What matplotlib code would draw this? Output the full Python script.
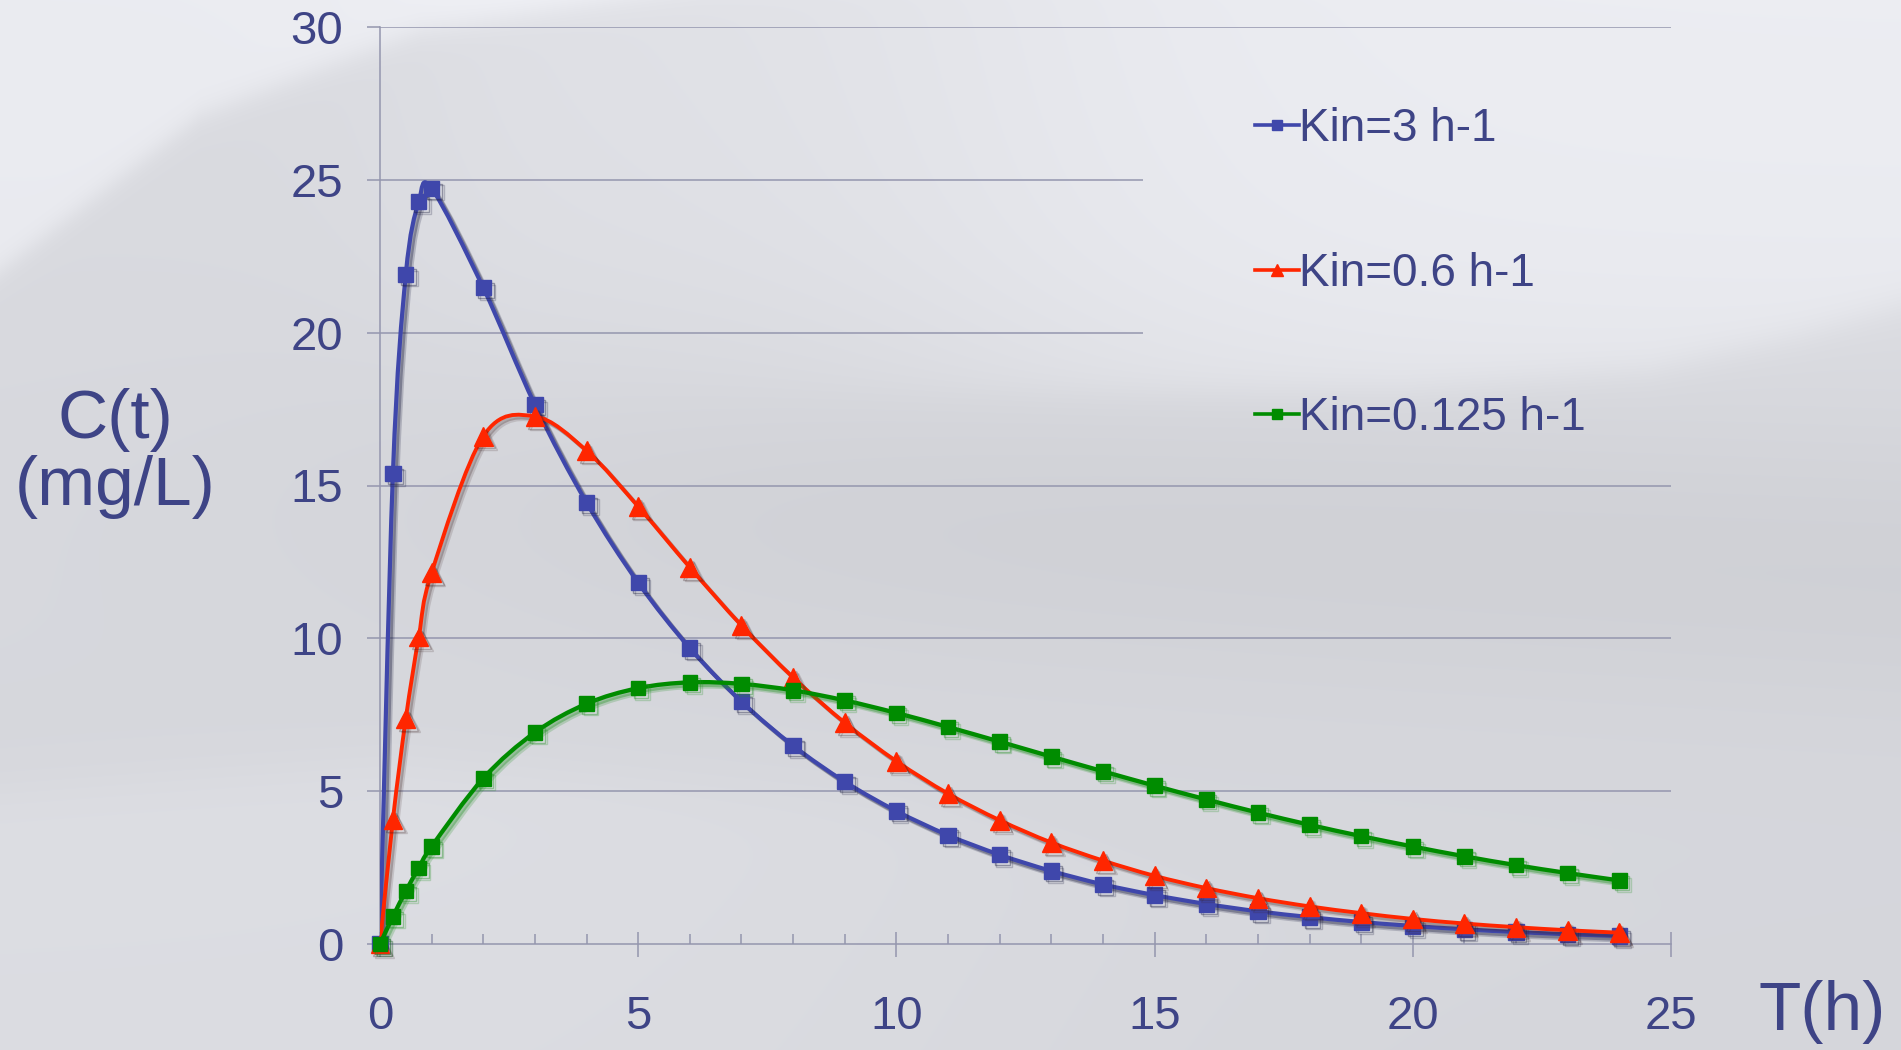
import numpy as np
import matplotlib
matplotlib.use("Agg")
import matplotlib.pyplot as plt
from matplotlib.path import Path
from matplotlib.patches import PathPatch
from matplotlib.lines import Line2D
import matplotlib.patheffects as pe

# ---- data: plasma concentration (mg/L) versus time (h) ----
time_h = [0, 0.25, 0.5, 0.75, 1, 2, 3, 4, 5, 6, 7, 8, 9, 10, 11, 12,
          13, 14, 15, 16, 17, 18, 19, 20, 21, 22, 23, 24]
conc_kin_3 = [0, 15.39, 21.91, 24.28, 24.72, 21.47, 17.64, 14.44, 11.82,
              9.68, 7.93, 6.49, 5.31, 4.35, 3.56, 2.92, 2.39, 1.95, 1.60,
              1.31, 1.07, 0.88, 0.72, 0.59, 0.48, 0.39, 0.32, 0.26]
conc_kin_06 = [0, 4.07, 7.38, 10.04, 12.15, 16.61, 17.26, 16.14, 14.31,
               12.32, 10.42, 8.72, 7.24, 5.98, 4.92, 4.05, 3.32, 2.73, 2.23,
               1.83, 1.50, 1.23, 1.01, 0.82, 0.67, 0.55, 0.45, 0.37]
conc_kin_0125 = [0, 0.90, 1.73, 2.49, 3.19, 5.42, 6.92, 7.86, 8.37, 8.56,
                 8.51, 8.30, 7.97, 7.56, 7.10, 6.62, 6.13, 5.65, 5.18, 4.73,
                 4.30, 3.90, 3.53, 3.19, 2.87, 2.58, 2.32, 2.08]
series_labels = ["Kin=3 h-1", "Kin=0.6 h-1", "Kin=0.125 h-1"]
x_ticks = [0, 5, 10, 15, 20, 25]
y_ticks = [0, 5, 10, 15, 20, 25, 30]

TEXT = "#3e4486"
GRID = "#9496ae"
BLUE = "#3f47ab"
RED = "#ff2600"
GREEN = "#008c00"

plt.rcParams["font.family"] = ["Liberation Sans", "DejaVu Sans"]

W, H, DPI = 1901, 1050, 100
fig = plt.figure(figsize=(W / DPI, H / DPI), dpi=DPI)

# ---- soft snowy backdrop ----
yy, xx = np.mgrid[0:H, 0:W].astype(float)


def soft(d, w):
    return 1.0 / (1.0 + np.exp(-d / w))


v = 0.862 - 0.02 * (yy / H)
# bright drift in the upper-left corner
edge_a = np.interp(xx, [0, 200, 420, 700, 1000], [270, 115, 30, -15, -40])
v += 0.065 * soft(edge_a - yy, 8)
# bright drift in the upper-right part
edge_b = np.interp(xx, [850, 1100, 1400, 1650, 1800, 1901],
                   [390, 392, 390, 370, 335, 305])
v += 0.05 * soft(edge_b - yy, 10) * soft(xx - 1000, 140)
# light haze across the upper middle
v += 0.02 * soft(330 - yy, 60) * soft(xx - 420, 60)
# shadowed fold through the middle
v -= 0.03 * np.exp(-((yy - 520 - 0.05 * (xx - 900)) / 150) ** 2) * soft(xx - 500, 200)
# lighter band near the bottom left
edge_c = np.interp(xx, [0, 400, 900, 1300], [790, 760, 800, 900])
v += 0.025 * soft(yy - edge_c, 15) * soft(1000 - xx, 200)
img = np.clip(np.dstack([v - 0.006, v - 0.002, v + 0.018]), 0, 1)
fig.figimage(img, xo=0, yo=0, origin="upper", zorder=-10)

ax = fig.add_axes([380 / W, 1 - 944 / H, (1671 - 380) / W, (944 - 27) / H])
ax.set_zorder(5)
ax.patch.set_alpha(0)
ax.set_xlim(0, 25)
ax.set_ylim(0, 30)

# horizontal grid: the two upper lines stop short of the legend area
for yv in y_ticks[1:]:
    right = 14.77 if yv in (20, 25) else 25
    ax.plot([0, right], [yv, yv], color=GRID, lw=1.1, zorder=1,
            solid_capstyle="butt")

for side in ("top", "right"):
    ax.spines[side].set_visible(False)
for side in ("left", "bottom"):
    ax.spines[side].set_color(GRID)
    ax.spines[side].set_linewidth(1.1)

ax.set_xticks(x_ticks)
ax.set_xticks(range(0, 26), minor=True)
ax.set_yticks(y_ticks)
ax.tick_params(axis="x", which="major", direction="inout", length=18,
               width=1.1, color=GRID, pad=28, labelsize=34, labelcolor=TEXT)
ax.tick_params(axis="x", which="minor", direction="in", length=7.5,
               width=1.1, color=GRID)
ax.tick_params(axis="y", which="major", direction="out", length=9.5,
               width=1.1, color=GRID, pad=17, labelsize=34, labelcolor=TEXT)


def smooth_path(xs, ys):
    """Cubic Bezier path through the points (spreadsheet-style smoothing)."""
    pts = np.column_stack([xs, ys]).astype(float)
    n = len(pts)
    verts = [pts[0]]
    codes = [Path.MOVETO]
    for i in range(n - 1):
        p0 = pts[i - 1] if i > 0 else pts[i]
        p1, p2 = pts[i], pts[i + 1]
        p3 = pts[i + 2] if i + 2 < n else pts[i + 1]
        verts += [p1 + (p2 - p0) / 6.0, p2 - (p3 - p1) / 6.0, p2]
        codes += [Path.CURVE4] * 3
    return Path(verts, codes)


def soft_shadow(color, alpha):
    # a few stacked offsets give a slightly blurred drop shadow
    return [pe.SimpleLineShadow(offset=(2.0, -2.0), shadow_color=color, alpha=alpha, rho=1),
            pe.SimpleLineShadow(offset=(3.2, -3.2), shadow_color=color, alpha=alpha * 0.6, rho=1)]


styles = [
    (conc_kin_3, BLUE, "s", 11.0, 3.0, "#1c1e40", 0.35),
    (conc_kin_06, RED, "^", 13.5, 2.8, "#3a2020", 0.25),
    (conc_kin_0125, GREEN, "s", 10.5, 3.1, "#1f8f1f", 0.35),
]
handles = []
for z, (vals, col, mk, ms, lw, shcol, sha) in enumerate(styles):
    patch = PathPatch(smooth_path(time_h, vals), facecolor="none",
                      edgecolor=col, lw=lw, zorder=3 + z, capstyle="round",
                      joinstyle="round")
    patch.set_path_effects(soft_shadow(shcol, sha) + [pe.Normal()])
    ax.add_patch(patch)
    ax.plot(time_h, vals, linestyle="none", marker=mk, ms=ms, color=col,
            mec=col, zorder=3.5 + z, clip_on=False,
            path_effects=soft_shadow(shcol, sha + 0.05) + [pe.Normal()])
    handles.append(Line2D([], [], color=col, lw=2.6, marker=mk,
                          ms=7.5 if mk == "s" else 9, mec=col))

ax.legend(handles, series_labels, loc="upper left",
          bbox_to_anchor=(0.678, 0.913), frameon=False, fontsize=33,
          labelcolor=TEXT, handlelength=0.95, handletextpad=0.0,
          labelspacing=2.2, borderpad=0, borderaxespad=0)

ax.set_ylabel("C(t)\n(mg/L)", rotation=0, fontsize=50, color=TEXT,
              ha="center", va="center", linespacing=1.05)
ax.yaxis.set_label_coords(-0.205, 0.535)
ax.set_xlabel("T(h)", fontsize=50, color=TEXT, ha="center", va="center")
ax.xaxis.set_label_coords(1.117, -0.074)

fig.savefig("out.png", dpi=DPI)
